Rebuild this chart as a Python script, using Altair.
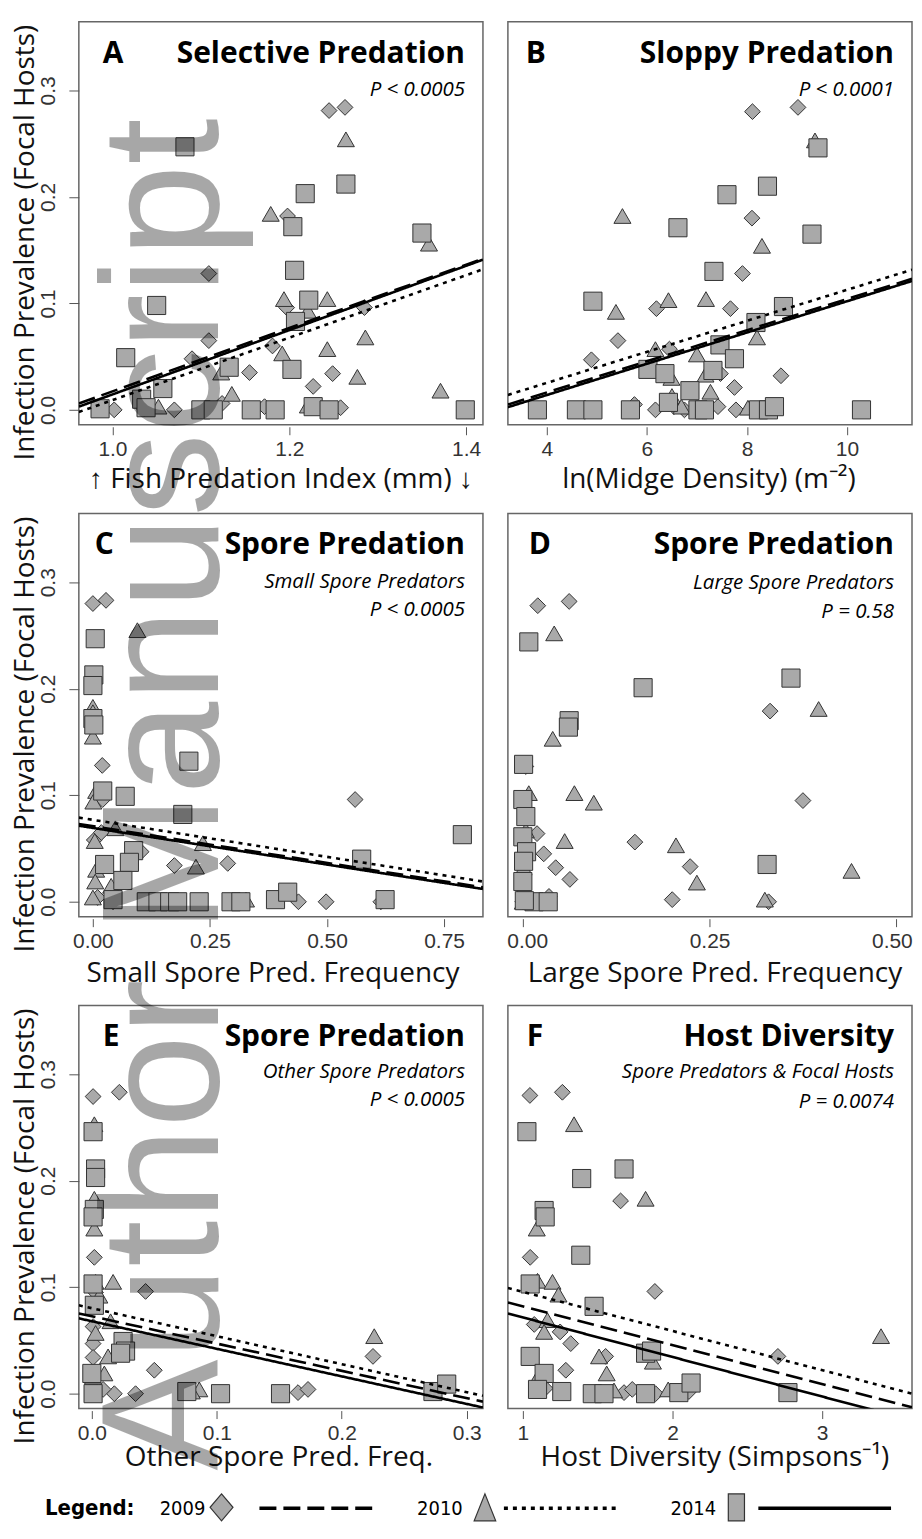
import altair as alt
import pandas as pd

YEARS = ["2009", "2010", "2014"]
SHAPES = ["diamond", "triangle-up", "square"]
SIZES = [250, 330, 170]
DASHES = [[17, 7], [4, 5], [1, 0]]
Y_DOMAIN = [-0.014, 0.3645]
Y_TICKS = [0.0, 0.1, 0.2, 0.3]
Y_TITLE = "Infection Prevalence (Focal Hosts)"
WATERMARK = "Author Manuscript"

# ---------------- Panel A: Selective predation ----------------
A_2009_x = [1.245, 1.263, 1.109, 1.198, 1.197, 1.109, 1.090, 1.181, 1.155, 1.249, 1.227, 1.285, 1.002, 1.036, 1.070, 1.124, 1.172, 1.258]
A_2009_y = [0.281, 0.284, 0.128, 0.182, 0.096, 0.065, 0.048, 0.060, 0.035, 0.034, 0.022, 0.096, 0.000, 0.001, 0.000, 0.006, 0.003, 0.002]
A_2010_x = [1.264, 1.179, 1.194, 1.221, 1.243, 1.243, 1.286, 1.192, 1.277, 1.123, 1.135, 1.052, 1.221, 1.358, 1.371]
A_2010_y = [0.254, 0.184, 0.104, 0.093, 0.104, 0.057, 0.068, 0.053, 0.031, 0.035, 0.015, 0.003, 0.004, 0.156, 0.018]
A_2014_x = [1.082, 1.264, 1.218, 1.204, 1.206, 1.050, 1.222, 1.207, 1.015, 1.132, 1.203, 1.057, 1.033, 0.986, 1.038, 1.100, 1.114, 1.157, 1.184, 1.227, 1.245, 1.350, 1.399]
A_2014_y = [0.247, 0.212, 0.203, 0.172, 0.131, 0.098, 0.103, 0.083, 0.049, 0.040, 0.038, 0.020, 0.010, 0.001, 0.002, 0.000, 0.000, 0.000, 0.000, 0.003, 0.000, 0.166, 0.000]
A_line_x = [0.962, 1.419]
A_line_2009 = [0.006, 0.142]
A_line_2010 = [-0.002, 0.132]
A_line_2014 = [0.003, 0.141]

# ---------------- Panel B: Sloppy predation ----------------
B_2009_x = [8.11, 9.02, 8.10, 7.91, 7.67, 6.19, 5.42, 4.89, 6.45, 7.47, 7.75, 8.68, 5.75, 6.17, 6.54, 6.75, 7.42, 7.78]
B_2009_y = [0.280, 0.284, 0.180, 0.128, 0.095, 0.095, 0.065, 0.047, 0.057, 0.034, 0.021, 0.032, 0.005, 0.000, 0.003, 0.000, 0.003, 0.000]
B_2010_x = [9.36, 5.51, 8.30, 5.38, 6.43, 7.18, 6.17, 7.00, 8.20, 6.49, 7.17, 7.27, 6.50, 6.69, 8.02]
B_2010_y = [0.253, 0.182, 0.154, 0.092, 0.103, 0.104, 0.057, 0.052, 0.068, 0.030, 0.033, 0.017, 0.013, 0.003, 0.002]
B_2014_x = [9.42, 8.41, 7.60, 6.62, 9.30, 7.34, 4.92, 8.73, 8.18, 7.46, 6.02, 6.36, 7.75, 6.86, 7.32, 6.43, 3.81, 4.59, 4.92, 5.67, 7.02, 7.15, 8.23, 8.43, 8.55, 10.29]
B_2014_y = [0.246, 0.210, 0.202, 0.171, 0.165, 0.130, 0.102, 0.097, 0.082, 0.061, 0.038, 0.034, 0.048, 0.018, 0.037, 0.007, 0.000, 0.000, 0.000, 0.000, 0.000, 0.000, 0.000, 0.000, 0.003, 0.000]
B_line_x = [3.22, 11.3]
B_line_2009 = [0.005, 0.123]
B_line_2010 = [0.014, 0.1316]
B_line_2014 = [0.0025, 0.121]

# ---------------- Panel C: Small spore predators ----------------
C_2009_x = [0.000, 0.028, 0.020, 0.021, 0.560, 0.003, 0.103, 0.174, 0.288, 0.043, 0.439, 0.498, 0.615, 0.010, 0.018]
C_2009_y = [0.280, 0.283, 0.128, 0.096, 0.096, 0.058, 0.047, 0.034, 0.036, 0.000, 0.000, 0.000, 0.000, 0.004, 0.065]
C_2010_x = [0.095, 0.000, 0.000, 0.000, 0.007, 0.001, 0.048, 0.004, 0.235, 0.220, 0.007, 0.005, 0.039, 0.000, 0.327]
C_2010_y = [0.255, 0.183, 0.178, 0.155, 0.104, 0.094, 0.069, 0.057, 0.055, 0.033, 0.030, 0.019, 0.015, 0.004, 0.002]
C_2014_x = [0.005, 0.002, 0.000, 0.000, 0.002, 0.205, 0.021, 0.069, 0.192, 0.789, 0.574, 0.087, 0.078, 0.025, 0.064, 0.114, 0.139, 0.164, 0.181, 0.227, 0.295, 0.316, 0.390, 0.416, 0.624, 0.043]
C_2014_y = [0.247, 0.213, 0.203, 0.172, 0.166, 0.132, 0.104, 0.099, 0.082, 0.063, 0.040, 0.048, 0.037, 0.035, 0.020, 0.000, 0.000, 0.000, 0.000, 0.000, 0.000, 0.000, 0.002, 0.009, 0.002, 0.002]
C_line_x = [-0.03, 0.833]
C_line_2009 = [0.073, 0.0135]
C_line_2010 = [0.079, 0.019]
C_line_2014 = [0.0714, 0.012]

# ---------------- Panel D: Large spore predators ----------------
D_2009_x = [0.020, 0.062, 0.331, 0.375, 0.004, 0.000, 0.019, 0.150, 0.028, 0.044, 0.063, 0.224, 0.035, 0.200, 0.329, 0.000]
D_2009_y = [0.278, 0.282, 0.179, 0.095, 0.127, 0.094, 0.064, 0.056, 0.045, 0.032, 0.021, 0.033, 0.005, 0.002, 0.000, 0.000]
D_2010_x = [0.042, 0.396, 0.040, 0.008, 0.069, 0.095, 0.004, 0.056, 0.205, 0.001, 0.002, 0.233, 0.440, 0.324, 0.000]
D_2010_y = [0.252, 0.181, 0.153, 0.102, 0.102, 0.093, 0.067, 0.057, 0.053, 0.032, 0.014, 0.018, 0.029, 0.002, 0.000]
D_2014_x = [0.008, 0.359, 0.161, 0.062, 0.061, 0.001, 0.000, 0.004, 0.000, 0.005, 0.001, 0.000, 0.327, 0.015, 0.034, 0.002]
D_2014_y = [0.244, 0.210, 0.201, 0.170, 0.164, 0.129, 0.096, 0.080, 0.061, 0.047, 0.038, 0.019, 0.035, 0.000, 0.000, 0.001]

# ---------------- Panel E: Other spore predators ----------------
E_2009_x = [0.001, 0.022, 0.002, 0.043, 0.001, 0.001, 0.050, 0.225, 0.018, 0.035, 0.165, 0.173, 0.009, 0.001, 0.001, 0.003]
E_2009_y = [0.279, 0.283, 0.128, 0.096, 0.047, 0.034, 0.022, 0.035, 0.000, 0.000, 0.001, 0.004, 0.004, 0.005, 0.063, 0.095]
E_2010_x = [0.002, 0.002, 0.002, 0.003, 0.017, 0.006, 0.015, 0.003, 0.226, 0.013, 0.010, 0.086, 0.080, 0.001]
E_2010_y = [0.253, 0.183, 0.155, 0.105, 0.105, 0.092, 0.068, 0.057, 0.054, 0.035, 0.019, 0.004, 0.002, 0.016]
E_2014_x = [0.001, 0.003, 0.003, 0.002, 0.001, 0.001, 0.002, 0.025, 0.027, 0.023, 0.000, 0.076, 0.103, 0.151, 0.273, 0.284, 0.001]
E_2014_y = [0.246, 0.211, 0.203, 0.173, 0.166, 0.103, 0.083, 0.049, 0.040, 0.038, 0.019, 0.002, 0.000, 0.000, 0.002, 0.009, 0.000]
E_line_x = [-0.0104, 0.313]
E_line_2009 = [0.0753, -0.0075]
E_line_2010 = [0.083, -0.002]
E_line_2014 = [0.0707, -0.013]

# ---------------- Panel F: Host diversity ----------------
F_2009_x = [1.047, 1.264, 1.653, 1.049, 1.882, 1.076, 1.249, 1.320, 1.553, 1.287, 2.704, 1.149, 1.676, 1.731, 1.887, 2.109]
F_2009_y = [0.280, 0.283, 0.181, 0.128, 0.096, 0.065, 0.058, 0.047, 0.035, 0.022, 0.035, 0.005, 0.001, 0.004, 0.000, 0.002]
F_2010_x = [1.342, 1.820, 1.093, 1.098, 1.198, 1.238, 1.164, 1.142, 1.509, 1.560, 1.869, 1.102, 1.609, 1.971, 3.393]
F_2010_y = [0.253, 0.183, 0.155, 0.106, 0.105, 0.093, 0.069, 0.058, 0.035, 0.019, 0.030, 0.016, 0.003, 0.004, 0.054]
F_2014_x = [1.027, 1.676, 1.393, 1.142, 1.149, 1.387, 1.049, 1.476, 1.049, 1.820, 1.860, 1.142, 1.098, 1.260, 1.464, 1.542, 1.820, 2.042, 2.124, 2.771]
F_2014_y = [0.246, 0.211, 0.202, 0.172, 0.166, 0.130, 0.103, 0.082, 0.035, 0.038, 0.040, 0.019, 0.004, 0.002, 0.000, 0.000, 0.000, 0.001, 0.010, 0.001]
F_line_x = [0.9, 3.6]
F_line_2009 = [0.0856, -0.0128]
F_line_2010 = [0.0993, 0.000]
F_line_2014 = [0.0753, -0.025]

# ---------------- legend layout ----------------
LEG_TITLE = "Legend:"
LEG_LABEL_X = [81, 339, 593]
LEG_SYM_X = [143, 407, 659]
LEG_LINE_X0 = [181, 426, 681]
LEG_LINE_X1 = [301, 541, 814]
LEG_PATHS = ["M0,-1L0.85,0L0,1L-0.85,0Z", "M0,-1L0.8,1L-0.8,1Z", "M-0.6,-1H0.6V1H-0.6Z"]
LEG_DASHES = [[17, 11], [8, 4], [1, 0]]

PT_FILL = "#a9a9a9"
PT_STROKE = "#333333"
W, H = 405, 404
TXT_FONT = "Open Sans"
TICK_FONT = "Liberation Sans"


def points_df(xs_list, ys_list):
    rows = []
    for yr, xs, ys in zip(YEARS, xs_list, ys_list):
        for a, b in zip(xs, ys):
            rows.append({"x": a, "y": b, "year": yr})
    return pd.DataFrame(rows)


def lines_df(lx, lys):
    rows = []
    for yr, ly in zip(YEARS, lys):
        for a, b in zip(lx, ly):
            rows.append({"x": a, "y": b, "year": yr})
    return pd.DataFrame(rows)


def text_layer(txt, x, y, size, weight="normal", style="normal", align="left", font=TXT_FONT):
    return alt.Chart(pd.DataFrame({"t": [txt]})).mark_text(
        align=align, baseline="alphabetic", font=font, fontSize=size,
        fontWeight=weight, fontStyle=style, color="black"
    ).encode(text="t:N", x=alt.value(x), y=alt.value(y))


def panel(pts, lns, xdom, xticks, xfmt, xtitle, title_x, title_y, letter, letter_x,
          heading, sub, pval, sub_y, p_y, show_y, flush=False):
    xscale = alt.Scale(domain=xdom, nice=False, zero=False)
    yscale = alt.Scale(domain=Y_DOMAIN, nice=False, zero=False)
    xaxis_kw = dict(values=xticks, format=xfmt, title=xtitle, domain=False, grid=False,
                    tickSize=8, tickColor="#555555", tickWidth=1, offset=2,
                    labelFont=TICK_FONT, labelFontSize=21, labelColor="#333333",
                    labelPadding=4, labelOverlap=False,
                    titleFont=TXT_FONT, titleFontSize=28, titleFontWeight="normal",
                    titleColor="#111111", titleX=title_x, titleY=title_y,
                    titleBaseline="alphabetic", titleAlign="center")
    if flush:
        xaxis_kw.update(labelFlush=20, labelFlushOffset=16)
    else:
        xaxis_kw.update(labelFlush=False)
    xaxis = alt.Axis(**xaxis_kw)
    if show_y:
        yaxis = alt.Axis(values=Y_TICKS, format=".1f", title=Y_TITLE, domain=False, grid=False,
                         tickSize=10, tickColor="#555555", tickWidth=1,
                         labelAngle=270, labelAlign="center", labelBaseline="alphabetic",
                         labelPadding=14, labelFont=TICK_FONT, labelFontSize=21,
                         labelColor="#333333", labelFlush=False, labelOverlap=False,
                         titleFont=TXT_FONT, titleFontSize=28, titleFontWeight="normal",
                         titleColor="#111111", titleAngle=270, titleX=-45, titleY=221,
                         titleBaseline="alphabetic", titleAlign="center")
    else:
        yaxis = None
    pts_layer = alt.Chart(pts).mark_point(
        filled=True, fill=PT_FILL, stroke=PT_STROKE, strokeWidth=1, opacity=1, fillOpacity=1
    ).encode(
        x=alt.X("x:Q", scale=xscale, axis=xaxis),
        y=alt.Y("y:Q", scale=yscale, axis=yaxis),
        shape=alt.Shape("year:N", scale=alt.Scale(domain=YEARS, range=SHAPES), legend=None),
        size=alt.Size("year:O", scale=alt.Scale(domain=YEARS, range=SIZES), legend=None),
    )
    layers = [pts_layer]
    if lns is not None:
        ln_layer = alt.Chart(lns).mark_line(clip=True, color="black", strokeWidth=2.6).encode(
            x=alt.X("x:Q", scale=xscale),
            y=alt.Y("y:Q", scale=yscale),
            detail="year:N",
            strokeDash=alt.StrokeDash("year:N", scale=alt.Scale(domain=YEARS, range=DASHES), legend=None),
        )
        layers.append(ln_layer)
    layers.append(text_layer(letter, letter_x, 41, 30, weight="bold"))
    layers.append(text_layer(heading, 387, 41, 30, weight="bold", align="right"))
    if sub:
        layers.append(text_layer(sub, 387, sub_y, 20.5, style="italic", align="right"))
    layers.append(text_layer(pval, 387, p_y, 20.5, style="italic", align="right"))
    return alt.layer(*layers).properties(width=W, height=H)


pA = panel(points_df([A_2009_x, A_2010_x, A_2014_x], [A_2009_y, A_2010_y, A_2014_y]),
           lines_df(A_line_x, [A_line_2009, A_line_2010, A_line_2014]),
           [0.962, 1.419], [1.0, 1.2, 1.4], ".1f", "\u2191 Fish Predation Index (mm) \u2193", 202, 61,
           "A", 24, "Selective Predation", None, "P < 0.0005", 75, 75, True)
pB = panel(points_df([B_2009_x, B_2010_x, B_2014_x], [B_2009_y, B_2010_y, B_2014_y]),
           lines_df(B_line_x, [B_line_2009, B_line_2010, B_line_2014]),
           [3.22, 11.3], [4, 6, 8, 10], "d", "ln(Midge Density) (m\u207b\u00b2)", 201, 61,
           "B", 18, "Sloppy Predation", None, "P < 0.0001", 75, 75, False)
pC = panel(points_df([C_2009_x, C_2010_x, C_2014_x], [C_2009_y, C_2010_y, C_2014_y]),
           lines_df(C_line_x, [C_line_2009, C_line_2010, C_line_2014]),
           [-0.03, 0.833], [0.0, 0.25, 0.5, 0.75], ".2f", "Small Spore Pred. Frequency", 194, 63,
           "C", 16, "Spore Predation", "Small Spore Predators", "P < 0.0005", 75, 103, True)
pD = panel(points_df([D_2009_x, D_2010_x, D_2014_x], [D_2009_y, D_2010_y, D_2014_y]),
           None,
           [-0.02, 0.521], [0.0, 0.25, 0.5], ".2f", "Large Spore Pred. Frequency", 207, 63,
           "D", 21, "Spore Predation", "Large Spore Predators", "P = 0.58", 76, 105, False, flush=True)
pE = panel(points_df([E_2009_x, E_2010_x, E_2014_x], [E_2009_y, E_2010_y, E_2014_y]),
           lines_df(E_line_x, [E_line_2009, E_line_2010, E_line_2014]),
           [-0.0104, 0.313], [0.0, 0.1, 0.2, 0.3], ".1f", "Other Spore Pred. Freq.", 200, 55,
           "E", 24, "Spore Predation", "Other Spore Predators", "P < 0.0005", 73, 101, True)
pF = panel(points_df([F_2009_x, F_2010_x, F_2014_x], [F_2009_y, F_2010_y, F_2014_y]),
           lines_df(F_line_x, [F_line_2009, F_line_2010, F_line_2014]),
           [0.9, 3.6], [1, 2, 3], "d", "Host Diversity (Simpsons\u207b\u00b9)", 207, 55,
           "F", 19, "Host Diversity", "Spore Predators & Focal Hosts", "P = 0.0074", 73, 103, False)

# ---------------- legend + watermark ----------------
leg_items = pd.DataFrame({"year": YEARS, "lx": LEG_LABEL_X, "sx": LEG_SYM_X, "path": LEG_PATHS})
leg_lines_rows = []
for yr, a, b in zip(YEARS, LEG_LINE_X0, LEG_LINE_X1):
    leg_lines_rows.append({"year": yr, "px": a})
    leg_lines_rows.append({"year": yr, "px": b})
leg_lines = pd.DataFrame(leg_lines_rows)
LEG_FONT = "Liberation Sans Narrow, DejaVu Sans Condensed, Open Sans"

leg_title = text_layer(LEG_TITLE, -34, 18, 22, weight="bold", font=LEG_FONT)
leg_text = alt.Chart(leg_items).mark_text(align="left", baseline="alphabetic", font=LEG_FONT,
                                          fontSize=20, color="black").encode(
    text="year:N", x=alt.X("lx:Q", scale=None, axis=None), y=alt.value(18))
leg_sym = alt.Chart(leg_items).mark_point(filled=True, fill=PT_FILL, stroke=PT_STROKE,
                                          strokeWidth=1.2, opacity=1, size=729).encode(
    x=alt.X("sx:Q", scale=None, axis=None), y=alt.value(10),
    shape=alt.Shape("path:N", scale=None, legend=None))
leg_ln = alt.Chart(leg_lines).mark_line(color="black", strokeWidth=3.5).encode(
    x=alt.X("px:Q", scale=None, axis=None), y=alt.value(11), detail="year:N",
    strokeDash=alt.StrokeDash("year:N", scale=alt.Scale(domain=YEARS, range=LEG_DASHES), legend=None))
wm = alt.Chart(pd.DataFrame({"t": [WATERMARK]})).mark_text(
    angle=270, align="left", baseline="alphabetic", font="Liberation Sans", fontSize=167,
    color="black", opacity=0.34).encode(text="t:N", x=alt.value(139), y=alt.value(-27))

legend = alt.layer(leg_title, leg_text, leg_sym, leg_ln, wm).properties(
    width=W, height=20, view=alt.ViewBackground(stroke="transparent"))

chart = alt.concat(pA, pB, pC, pD, pE, pF, legend, columns=2,
                   spacing={"row": 89, "column": 25}, bounds="flush").properties(
    padding={"left": 3, "top": 11, "right": 0, "bottom": 0},
    background="white",
).configure_view(stroke="#666666", strokeWidth=1.5)

chart.save("out.html", embed_options={"renderer": "svg", "actions": False})
